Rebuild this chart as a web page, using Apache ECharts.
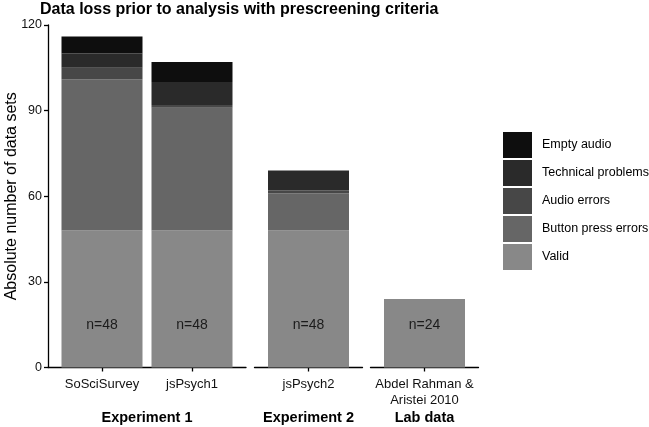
<!DOCTYPE html>
<html>
<head>
<meta charset="utf-8">
<script src="https://cdn.jsdelivr.net/npm/echarts@6/dist/echarts.min.js"></script>
<style>html,body{margin:0;padding:0;background:#fff}#c{width:649px;height:427px}</style>
</head>
<body>
<div id="c"></div>
<script>
// ---- data ----
const facetNames = ['Experiment 1', 'Experiment 2', 'Lab data'];
const facetCategories = [['SoSciSurvey', 'jsPsych1'], ['jsPsych2'], ['Abdel Rahman &\nAristei 2010']];
// values per bar, in order: SoSciSurvey, jsPsych1, jsPsych2, Abdel Rahman & Aristei 2010
const valid = [48, 48, 48, 24];
const buttonPressErrors = [53, 43, 13, 0];
const audioErrors = [4, 1, 1, 0];
const technicalProblems = [5, 8, 7, 0];
const emptyAudio = [6, 7, 0, 0];
const nLabels = ['n=48', 'n=48', 'n=48', 'n=24'];
const nLabelY = 15;
const yTicks = [0, 30, 60, 90, 120];

const seriesDefs = [
  { name: 'Valid', values: valid, color: '#888888' },
  { name: 'Button press errors', values: buttonPressErrors, color: '#666666' },
  { name: 'Audio errors', values: audioErrors, color: '#474747' },
  { name: 'Technical problems', values: technicalProblems, color: '#2a2a2a' },
  { name: 'Empty audio', values: emptyAudio, color: '#0e0e0e' }
];

const font = 'Liberation Sans, Arial, Helvetica, sans-serif';
const gridTop = 25, gridBottom = 59.5;
const gridLayout = [
  { left: 48, width: 198 },
  { left: 254.5, width: 108 },
  { left: 370.5, width: 108 }
];

// Each facet axis: points every 0.2 category units, category k sits at slot 3 + 5k
// (mimics a discrete scale with 0.6 expansion on each side).
const grids = [], xAxes = [], yAxes = [], series = [];
let barIdx = 0;
facetCategories.forEach((cats, f) => {
  grids.push({ left: gridLayout[f].left, width: gridLayout[f].width, top: gridTop, bottom: gridBottom,
    containLabel: false, outerBoundsMode: 'none' });
  const nSlots = 5 * cats.length + 2;
  const slotLabels = Array(nSlots).fill('');
  const slotOf = cats.map((c, i) => 3 + 5 * i);
  cats.forEach((c, i) => { slotLabels[slotOf[i]] = c; });
  const isCat = (index, value) => value !== '';
  xAxes.push({
    type: 'category', gridIndex: f, data: slotLabels, boundaryGap: false,
    name: facetNames[f], nameLocation: 'middle', nameGap: 43, nameMoveOverlap: false,
    nameTextStyle: { fontFamily: font, fontSize: 14.5, fontWeight: 'bold', color: '#000' },
    axisLine: { show: true, onZero: false, lineStyle: { color: '#000', width: 1.3 } },
    axisTick: { show: true, interval: isCat, length: 4, lineStyle: { color: '#000', width: 1.3 } },
    axisLabel: { show: true, interval: isCat, margin: 9, hideOverlap: false,
      fontFamily: font, fontSize: 13, color: '#111', lineHeight: 16 },
    splitLine: { show: false }
  });
  yAxes.push({
    type: 'value', gridIndex: f, min: 0, max: 120, interval: 30, show: f === 0,
    name: f === 0 ? 'Absolute number of data sets' : '', nameLocation: 'middle', nameGap: 28,
    nameMoveOverlap: false,
    nameTextStyle: { fontFamily: font, fontSize: 16, color: '#000' },
    axisLine: { show: true, lineStyle: { color: '#000', width: 1.3 } },
    axisTick: { show: true, length: 4, lineStyle: { color: '#000', width: 1.3 } },
    axisLabel: { fontFamily: font, fontSize: 12.5, color: '#111', margin: 6,
      formatter: v => yTicks.includes(v) ? String(v) : '' },
    splitLine: { show: false }
  });
  seriesDefs.forEach(sd => {
    const d = Array(nSlots).fill(null);
    cats.forEach((c, i) => { d[slotOf[i]] = sd.values[barIdx + i]; });
    series.push({
      type: 'bar', name: sd.name, xAxisIndex: f, yAxisIndex: f, stack: 'total' + f,
      barWidth: 81, itemStyle: { color: sd.color },
      data: d, emphasis: { disabled: true }, animation: false
    });
  });
  series.push({
    type: 'scatter', name: 'nlabel' + f, xAxisIndex: f, yAxisIndex: f,
    symbolSize: 0, silent: true, animation: false,
    data: cats.map((c, i) => [slotOf[i], nLabelY, nLabels[barIdx + i]]),
    label: { show: true, position: 'inside', formatter: p => p.data[2],
      fontFamily: font, fontSize: 14, color: '#000' }
  });
  barIdx += cats.length;
});

const chart = echarts.init(document.getElementById('c'), null, { renderer: 'canvas' });
chart.setOption({
  backgroundColor: '#fff',
  animation: false,
  title: {
    text: 'Data loss prior to analysis with prescreening criteria',
    left: 35, top: -3,
    textStyle: { fontFamily: font, fontSize: 16, fontWeight: 'bold', color: '#000' }
  },
  legend: {
    orient: 'vertical', left: 498, top: 127,
    data: ['Empty audio', 'Technical problems', 'Audio errors', 'Button press errors', 'Valid'],
    icon: 'rect', itemWidth: 29, itemHeight: 26, itemGap: 2,
    textStyle: { fontFamily: font, fontSize: 12.5, color: '#000', padding: [0, 0, 0, 5] },
    selectedMode: false
  },
  grid: grids,
  xAxis: xAxes,
  yAxis: yAxes,
  series: series
});
</script>
</body>
</html>
